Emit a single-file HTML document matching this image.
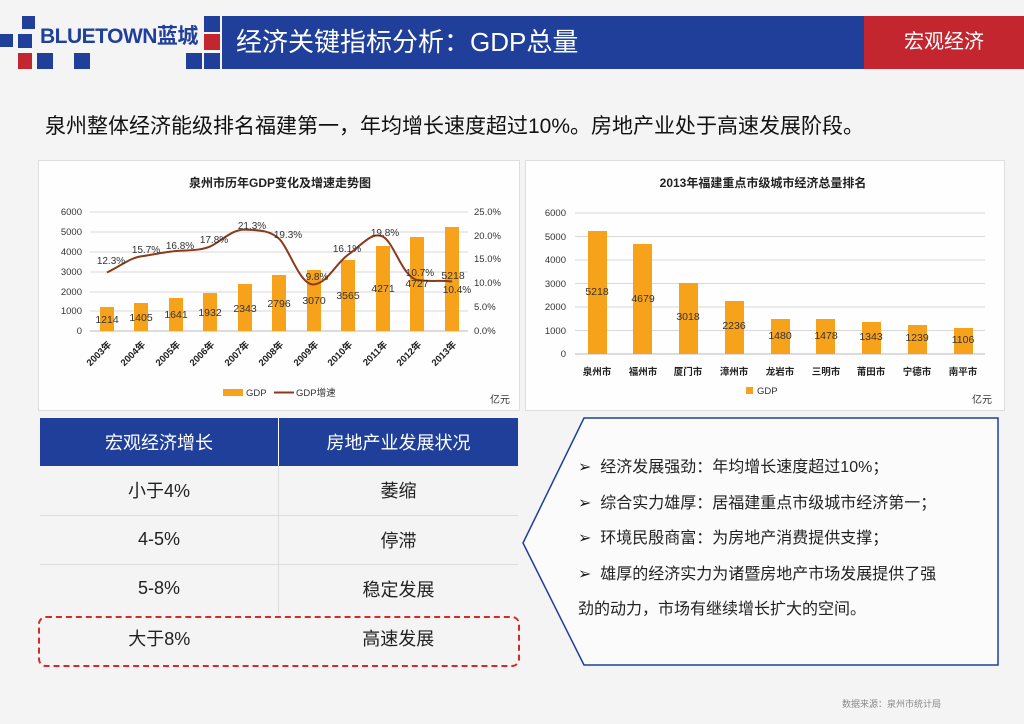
<!DOCTYPE html>
<html><head><meta charset="utf-8">
<style>
body{margin:0;width:1024px;height:724px;overflow:hidden;background:#f5f4f4;font-family:"Liberation Sans","Noto Sans CJK SC",sans-serif;position:relative}
.abs{position:absolute}
.card{position:absolute;background:#fff;border:1px solid #ddd;opacity:.93}
table{border-collapse:collapse}
</style></head><body>
<div class="abs" style="left:222px;top:16px;width:800px;height:53px;background:#1f3f9a"></div>
<div class="abs" style="left:864px;top:16px;width:160px;height:53px;background:#c3262e;color:#fff;font-size:20px;line-height:53px;text-align:center">宏观经济</div>
<div class="abs" style="left:236px;top:15px;color:#fff;font-size:26px;line-height:55px">经济关键指标分析：GDP总量</div>
<div class="abs" style="left:22px;top:16px;width:13px;height:13px;background:#1f3f9a"></div>
<div class="abs" style="left:0px;top:34px;width:13px;height:13px;background:#1f3f9a"></div>
<div class="abs" style="left:18px;top:34px;width:14px;height:14px;background:#1f3f9a"></div>
<div class="abs" style="left:18px;top:53px;width:14px;height:16px;background:#c3262e"></div>
<div class="abs" style="left:37px;top:53px;width:16px;height:16px;background:#1f3f9a"></div>
<div class="abs" style="left:74px;top:53px;width:16px;height:16px;background:#1f3f9a"></div>
<div class="abs" style="left:204px;top:16px;width:16px;height:16px;background:#1f3f9a"></div>
<div class="abs" style="left:204px;top:34px;width:16px;height:16px;background:#c3262e"></div>
<div class="abs" style="left:204px;top:53px;width:16px;height:16px;background:#1f3f9a"></div>
<div class="abs" style="left:186px;top:53px;width:16px;height:16px;background:#1f3f9a"></div>
<div class="abs" style="left:40px;top:20px;color:#1f3f9a;font-weight:bold;font-size:21px;letter-spacing:-0.5px">BLUETOWN蓝城</div>
<div class="abs" style="left:45px;top:110px;font-size:21px;color:#111">泉州整体经济能级排名福建第一，年均增长速度超过10%。房地产业处于高速发展阶段。</div>

<div class="card" style="left:38px;top:160px;width:480px;height:249px"></div>
<div class="card" style="left:525px;top:160px;width:478px;height:249px"></div>

<svg class="abs" style="left:0;top:0" width="1024" height="724" font-family="Liberation Sans, Noto Sans CJK SC, sans-serif">
<text x="280" y="187" font-size="12" font-weight="bold" text-anchor="middle" fill="#222">泉州市历年GDP变化及增速走势图</text>
<g stroke="#d8d8d8" stroke-width="1">
<line x1="90" x2="468" y1="212" y2="212"/><line x1="90" x2="468" y1="232" y2="232"/><line x1="90" x2="468" y1="252" y2="252"/><line x1="90" x2="468" y1="272" y2="272"/><line x1="90" x2="468" y1="292" y2="292"/><line x1="90" x2="468" y1="311" y2="311"/><line x1="90" x2="468" y1="331" y2="331" stroke="#bbb"/>
</g>
<g font-size="9.5" fill="#333" text-anchor="end">
<text x="82" y="215">6000</text><text x="82" y="235">5000</text><text x="82" y="255">4000</text><text x="82" y="275">3000</text><text x="82" y="295">2000</text><text x="82" y="314">1000</text><text x="82" y="334">0</text>
</g>
<g font-size="9.5" fill="#333">
<text x="474" y="215">25.0%</text><text x="474" y="239">20.0%</text><text x="474" y="262">15.0%</text><text x="474" y="286">10.0%</text><text x="474" y="310">5.0%</text><text x="474" y="334">0.0%</text>
</g>
<g fill="#f7a21b">
<rect x="100" y="307" width="14" height="24"/><rect x="134" y="303" width="14" height="28"/><rect x="169" y="298" width="14" height="33"/><rect x="203" y="293" width="14" height="38"/><rect x="238" y="284" width="14" height="47"/><rect x="272" y="275" width="14" height="56"/><rect x="307" y="270" width="14" height="61"/><rect x="341" y="260" width="14" height="71"/><rect x="376" y="246" width="14" height="85"/><rect x="410" y="237" width="14" height="94"/><rect x="445" y="227" width="14" height="104"/>
</g>
<path d="M107,272.5 C122,265 130,258 141.5,256.3 S165,252 176,251 S200,251 210.5,246.3 S232,229 245,229.6 S270,230 279.5,239.1 S300,286 314,284.4 S335,264 348.5,254.4 S372,231 383,236.7 S403,278 417.5,280 S440,280 452,281.5" fill="none" stroke="#8b3a1a" stroke-width="2"/>
<g font-size="10.5" fill="#333" text-anchor="middle">
<text x="107" y="323">1214</text><text x="141" y="321">1405</text><text x="176" y="318">1641</text><text x="210" y="316">1932</text><text x="245" y="312">2343</text><text x="279" y="307">2796</text><text x="314" y="304">3070</text><text x="348" y="299">3565</text><text x="383" y="292">4271</text><text x="417" y="287">4727</text><text x="453" y="279">5218</text>
</g>
<g font-size="10" fill="#333" text-anchor="middle">
<text x="111" y="264">12.3%</text><text x="146" y="253">15.7%</text><text x="180" y="249">16.8%</text><text x="214" y="243">17.8%</text><text x="252" y="229">21.3%</text><text x="288" y="238">19.3%</text><text x="317" y="280">9.8%</text><text x="347" y="252">16.1%</text><text x="385" y="236">19.8%</text><text x="420" y="276">10.7%</text><text x="457" y="293">10.4%</text>
</g>
<g font-size="9.5" font-weight="bold" fill="#222" text-anchor="end">
<text transform="translate(112,345) rotate(-45)">2003年</text><text transform="translate(146,345) rotate(-45)">2004年</text><text transform="translate(181,345) rotate(-45)">2005年</text><text transform="translate(215,345) rotate(-45)">2006年</text><text transform="translate(250,345) rotate(-45)">2007年</text><text transform="translate(284,345) rotate(-45)">2008年</text><text transform="translate(319,345) rotate(-45)">2009年</text><text transform="translate(353,345) rotate(-45)">2010年</text><text transform="translate(388,345) rotate(-45)">2011年</text><text transform="translate(422,345) rotate(-45)">2012年</text><text transform="translate(457,345) rotate(-45)">2013年</text>
</g>
<rect x="223" y="389" width="20" height="7" fill="#f7a21b"/><text x="246" y="396" font-size="9.5" fill="#333">GDP</text>
<line x1="274" x2="294" y1="392.5" y2="392.5" stroke="#8b3a1a" stroke-width="2"/><text x="296" y="396" font-size="9.5" fill="#333">GDP增速</text>
<text x="490" y="403" font-size="10" fill="#333">亿元</text>

<text x="763" y="187" font-size="12" font-weight="bold" text-anchor="middle" fill="#222">2013年福建重点市级城市经济总量排名</text>
<g stroke="#d8d8d8">
<line x1="575" x2="985" y1="213" y2="213"/><line x1="575" x2="985" y1="236.5" y2="236.5"/><line x1="575" x2="985" y1="260" y2="260"/><line x1="575" x2="985" y1="283.5" y2="283.5"/><line x1="575" x2="985" y1="307" y2="307"/><line x1="575" x2="985" y1="330.5" y2="330.5"/><line x1="575" x2="985" y1="354" y2="354" stroke="#bbb"/>
</g>
<g font-size="9.5" fill="#333" text-anchor="end">
<text x="566" y="216">6000</text><text x="566" y="240">5000</text><text x="566" y="263">4000</text><text x="566" y="287">3000</text><text x="566" y="310">2000</text><text x="566" y="334">1000</text><text x="566" y="357">0</text>
</g>
<g fill="#f7a21b">
<rect x="588" y="231" width="19" height="123"/><rect x="633" y="244" width="19" height="110"/><rect x="679" y="283" width="19" height="71"/><rect x="725" y="301" width="19" height="53"/><rect x="771" y="319" width="19" height="35"/><rect x="816" y="319" width="19" height="35"/><rect x="862" y="322" width="19" height="32"/><rect x="908" y="325" width="19" height="29"/><rect x="954" y="328" width="19" height="26"/>
</g>
<g font-size="10.5" fill="#333" text-anchor="middle">
<text x="597" y="295">5218</text><text x="643" y="302">4679</text><text x="688" y="320">3018</text><text x="734" y="329">2236</text><text x="780" y="339">1480</text><text x="826" y="339">1478</text><text x="871" y="340">1343</text><text x="917" y="341">1239</text><text x="963" y="343">1106</text>
</g>
<g font-size="9.5" font-weight="bold" fill="#222" text-anchor="middle">
<text x="597" y="375">泉州市</text><text x="643" y="375">福州市</text><text x="688" y="375">厦门市</text><text x="734" y="375">漳州市</text><text x="780" y="375">龙岩市</text><text x="826" y="375">三明市</text><text x="871" y="375">莆田市</text><text x="917" y="375">宁德市</text><text x="963" y="375">南平市</text>
</g>
<rect x="746" y="387" width="7" height="7" fill="#f7a21b"/><text x="757" y="394" font-size="9.5" fill="#333">GDP</text>
<text x="972" y="403" font-size="10" fill="#333">亿元</text>

<polygon points="584,418 998,418 998,665 584,665 523,543" fill="#fff" fill-opacity="0.6" stroke="#1f3f9a" stroke-width="1.5"/>
</svg>

<table class="abs" style="left:40px;top:418px;width:478px;font-size:18px;color:#222;text-align:center">
<tr style="background:#1f3f9a;color:#fff;height:48px"><td style="width:236px;border-right:1px solid #fff">宏观经济增长</td><td>房地产业发展状况</td></tr>
<tr style="height:49px;border-bottom:1px solid #ddd"><td style="border-right:1px solid #ddd">小于4%</td><td>萎缩</td></tr>
<tr style="height:49px;border-bottom:1px solid #ddd"><td style="border-right:1px solid #ddd">4-5%</td><td>停滞</td></tr>
<tr style="height:49px"><td style="border-right:1px solid #ddd">5-8%</td><td>稳定发展</td></tr>
<tr style="height:49px"><td>大于8%</td><td>高速发展</td></tr>
</table>
<div class="abs" style="left:38px;top:616px;width:478px;height:47px;border:2px dashed #d42a2a;border-radius:8px"></div>

<div class="abs" style="left:578px;top:450px;width:418px;font-size:16px;color:#222;line-height:35.5px">
<div>➢&nbsp; 经济发展强劲：年均增长速度超过10%；</div>
<div>➢&nbsp; 综合实力雄厚：居福建重点市级城市经济第一；</div>
<div>➢&nbsp; 环境民殷商富：为房地产消费提供支撑；</div>
<div>➢&nbsp; 雄厚的经济实力为诸暨房地产市场发展提供了强<br>劲的动力，市场有继续增长扩大的空间。</div>
</div>
<div class="abs" style="left:842px;top:697px;font-size:9px;color:#888">数据来源：泉州市统计局</div>
</body></html>
